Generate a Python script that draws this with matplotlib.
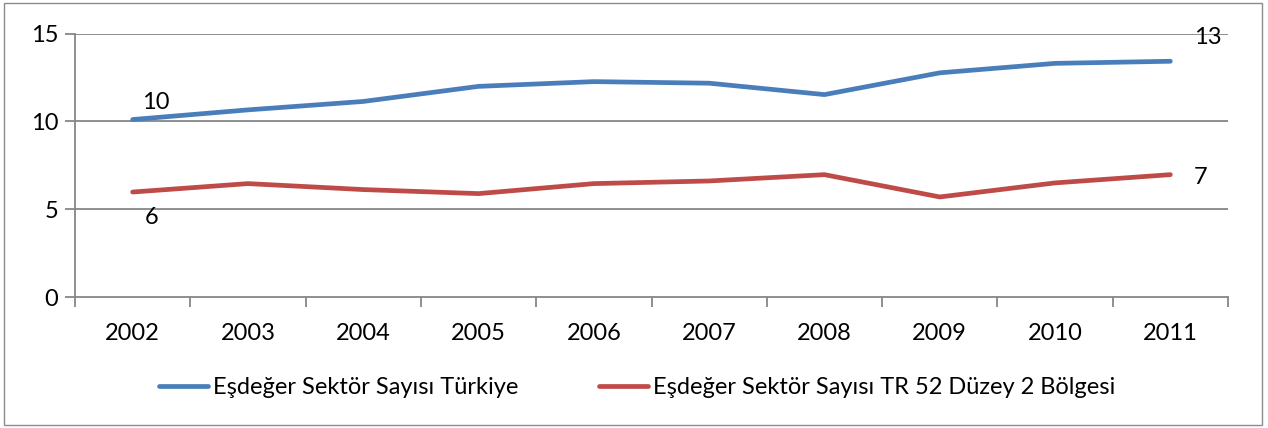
import matplotlib
matplotlib.use("Agg")
import matplotlib.pyplot as plt
from matplotlib.patches import Rectangle

years = ["2002", "2003", "2004", "2005", "2006", "2007", "2008", "2009", "2010", "2011"]
turkiye = [10.11, 10.66, 11.14, 12.0, 12.27, 12.18, 11.53, 12.77, 13.31, 13.43]
tr52 = [5.98, 6.46, 6.12, 5.89, 6.46, 6.61, 6.97, 5.70, 6.50, 6.97]
series_names = ["Eşdeğer Sektör Sayısı Türkiye", "Eşdeğer Sektör Sayısı TR 52 Düzey 2 Bölgesi"]
yticks = [0, 5, 10, 15]

plt.rcParams['font.family'] = ['Lato', 'DejaVu Sans']
FS = 17
W, H = 1268, 428
fig = plt.figure(figsize=(W / 100, H / 100), dpi=100)
ax = fig.add_axes([75 / W, 1 - 297 / H, 1153 / W, (297 - 33.7) / H])

x = list(range(len(years)))
blue = "#4A7EBB"
red = "#BE4B48"
grid_c = "#868686"
ax.plot(x, turkiye, color=blue, lw=3.4, solid_capstyle="round", solid_joinstyle="round", label=series_names[0])
ax.plot(x, tr52, color=red, lw=3.4, solid_capstyle="round", solid_joinstyle="round", label=series_names[1])

ax.set_xlim(-0.5, len(years) - 0.5)
ax.set_ylim(0, 15)
ax.set_yticks(yticks)
ax.set_yticklabels([str(v) for v in yticks], fontsize=FS)
for v in yticks[1:]:
    ax.axhline(v, color=grid_c, lw=1.3, zorder=0)

ax.set_xticks(x)
ax.set_xticklabels(years, fontsize=FS)
ax.tick_params(axis="x", which="major", length=0, pad=19)
ax.set_xticks([i - 0.5 for i in range(len(years) + 1)], minor=True)
ax.tick_params(axis="x", which="minor", length=7, width=1.3, color=grid_c, direction="out")
ax.tick_params(axis="y", length=7, width=1.3, color=grid_c, direction="out", pad=5)

for s in ["top", "right"]:
    ax.spines[s].set_visible(False)
for s in ["left", "bottom"]:
    ax.spines[s].set_color(grid_c)
    ax.spines[s].set_linewidth(1.3)

# data labels
ax.annotate(f"{round(turkiye[0])}", (x[0], turkiye[0]), xytext=(17, 12), textcoords="offset points",
            fontsize=FS, ha="center", va="center")
ax.annotate(f"{round(tr52[0])}", (x[0], tr52[0]), xytext=(14, -18), textcoords="offset points",
            fontsize=FS, ha="center", va="center")
ax.annotate(f"{round(turkiye[-1])}", (x[-1], turkiye[-1]), xytext=(27, 17), textcoords="offset points",
            fontsize=FS, ha="center", va="center")
ax.annotate(f"{round(tr52[-1])}", (x[-1], tr52[-1]), xytext=(22, -2), textcoords="offset points",
            fontsize=FS, ha="center", va="center")

fig.legend(loc="center", bbox_to_anchor=(637 / W, 1 - 388 / H), ncol=2, frameon=False, fontsize=FS,
           handlelength=2.1, handletextpad=0.2, columnspacing=3.4)

fig.patches.append(Rectangle((4 / W, 3 / H), 1258 / W, 422 / H, transform=fig.transFigure,
                             fill=False, edgecolor="#8C8C8C", lw=1.0))

fig.savefig("out.png", dpi=100)
